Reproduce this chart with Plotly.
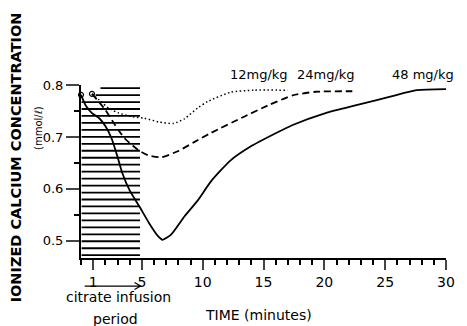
import numpy as np
import plotly.graph_objects as go

# ---- data ----
time_48 = [0, 0.4, 0.9, 1.5, 2.0, 2.5, 3.0, 3.4, 4.0, 4.8, 5.6, 6.3, 6.7, 7.4, 8.5, 9.6, 10.7, 12.3, 13.9, 16.0, 17.4, 20.1, 22.8, 25.5, 27.6, 30.0]
ca_48 = [0.781, 0.760, 0.746, 0.736, 0.721, 0.698, 0.662, 0.630, 0.597, 0.566, 0.534, 0.510, 0.502, 0.512, 0.547, 0.578, 0.615, 0.655, 0.681, 0.707, 0.723, 0.746, 0.762, 0.778, 0.790, 0.792]

time_24 = [0.9, 1.35, 2.0, 2.8, 3.6, 4.7, 5.5, 6.6, 8.0, 9.3, 10.7, 13.4, 15.5, 17.4, 19.3, 22.3]
ca_24 = [0.783, 0.771, 0.752, 0.723, 0.697, 0.675, 0.665, 0.661, 0.673, 0.690, 0.708, 0.739, 0.762, 0.780, 0.787, 0.788]

time_12 = [0.9, 1.5, 2.3, 3.1, 4.2, 5.2, 6.4, 7.6, 8.5, 9.6, 10.4, 12.3, 14.2, 17.0]
ca_12 = [0.783, 0.771, 0.755, 0.746, 0.739, 0.736, 0.729, 0.726, 0.735, 0.756, 0.768, 0.786, 0.790, 0.790]

dose_labels = ["12mg/kg", "24mg/kg", "48 mg/kg"]
dose_label_x = [14.6, 20.1, 28.1]

x_ticks = [1, 5, 10, 15, 20, 25, 30]
y_ticks = [0.5, 0.6, 0.7, 0.8]
y_tick_text = ["0.5", "0.6", "0.7", "0.8"]

infusion_start = 1
infusion_end = 5
FONT = "DejaVu Sans, Liberation Sans, sans-serif"

fig = go.Figure()

# hatched citrate infusion period (decorative horizontal lines)
levels = 0.794 - 0.0134 * np.arange(25)
for k, yv in enumerate(levels):
    x0 = 1.6 if k == 0 else (1.2 if k == 1 else 0.05)
    fig.add_shape(type="line", xref="x", yref="y", x0=x0, x1=infusion_end - 0.15,
                  y0=yv, y1=yv, line=dict(color="black", width=1.8), layer="below")

fig.add_trace(go.Scatter(x=time_48, y=ca_48, mode="lines", line=dict(color="black", width=1.8, shape="spline", smoothing=0.6), showlegend=False))
fig.add_trace(go.Scatter(x=time_24, y=ca_24, mode="lines", line=dict(color="black", width=1.8, dash="7px,4px", shape="spline", smoothing=0.6), showlegend=False))
fig.add_trace(go.Scatter(x=time_12, y=ca_12, mode="lines", line=dict(color="black", width=1.5, dash="1.5px,2.5px", shape="spline", smoothing=0.6), showlegend=False))
# open start markers
fig.add_trace(go.Scatter(x=[time_48[0], time_24[0]], y=[ca_48[0], ca_24[0]], mode="markers",
                         marker=dict(symbol="circle-open", size=5, color="black", line=dict(width=1.2)),
                         showlegend=False, cliponaxis=False))

def note(x, y, text, size, xref="x", angle=0):
    fig.add_annotation(x=x, y=y, xref=xref, yref="paper", text=text, showarrow=False,
                       xanchor="center", yanchor="middle", textangle=angle,
                       font=dict(family=FONT, size=size, color="black"))

for t, xv in zip(dose_labels, dose_label_x):
    note(xv, 1.058, t, 13)

note(-0.177, 0.584, "<b>IONIZED CALCIUM CONCENTRATION</b>", 14.5, xref="paper", angle=-90)
note(-0.118, 0.751, "(mmol/ℓ)", 10, xref="paper", angle=-90)
note(3.1, -0.225, "citrate infusion", 14)
note(2.8, -0.35, "period", 14)
note(14.6, -0.33, "TIME (minutes)", 14)

# arrow under the infusion period
ya = -0.162
fig.add_shape(type="path", xref="x", yref="paper",
              path=f"M {infusion_start - 0.7},{ya} L {infusion_end - 0.1},{ya} "
                   f"M {infusion_end - 0.6},{ya + 0.02} L {infusion_end - 0.1},{ya} L {infusion_end - 0.6},{ya - 0.02}",
              line=dict(color="black", width=1.2))

fig.update_xaxes(range=[0, 30], tickvals=x_ticks, ticks="outside", ticklen=10, tickwidth=1.8,
                 showline=True, linecolor="black", linewidth=2, showgrid=False, zeroline=False,
                 tickfont=dict(family=FONT, size=14, color="black"),
                 minor=dict(dtick=1, tick0=0, ticks="outside", ticklen=5, tickwidth=1.5, tickcolor="black"))
fig.update_yaxes(range=[0.467, 0.8], tickvals=y_ticks, ticktext=y_tick_text, ticks="outside", ticklen=13, tickwidth=1.8,
                 showline=True, linecolor="black", linewidth=2, showgrid=False, zeroline=False,
                 tickfont=dict(family=FONT, size=13, color="black"),
                 minor=dict(dtick=0.05, tick0=0.5, ticks="outside", ticklen=5, tickwidth=1.5, tickcolor="black"))

fig.update_layout(width=467, height=326, margin=dict(l=81, r=14, t=85, b=68),
                  plot_bgcolor="white", paper_bgcolor="white")

fig.write_html("out.html", config={"displayModeBar": False},
               post_script="document.body.style.margin='0';document.body.style.overflow='hidden';")
